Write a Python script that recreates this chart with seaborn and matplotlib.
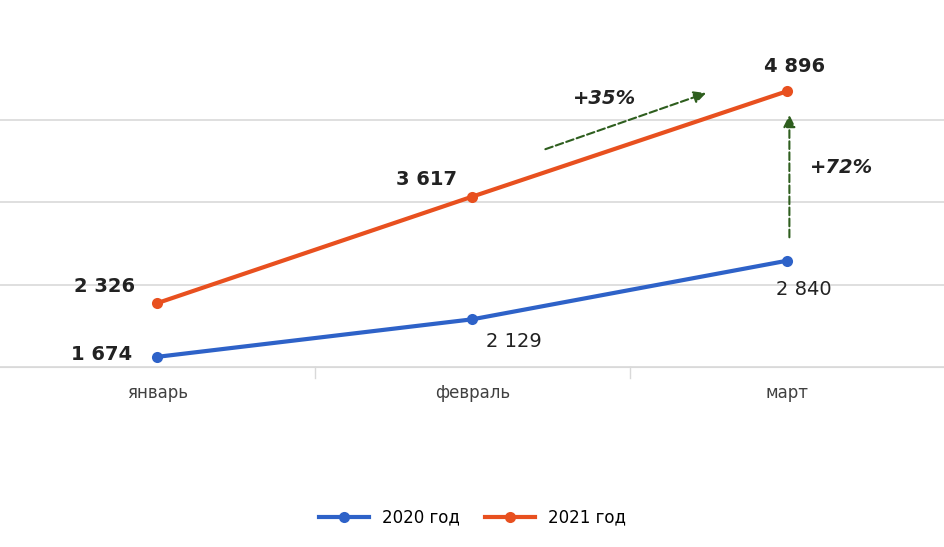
import matplotlib
matplotlib.use("Agg")
import matplotlib.pyplot as plt
import seaborn as sns
import pandas as pd

months = ["январь", "февраль", "март"]
v2020 = [1674, 2129, 2840]
v2021 = [2326, 3617, 4896]
series = ["2020 год", "2021 год"]

df = pd.DataFrame({"month": months * 2, "value": v2020 + v2021,
                   "series": [series[0]] * 3 + [series[1]] * 3})
df["x"] = [0, 1, 2, 0, 1, 2]

fig = plt.figure(figsize=(9.45, 5.47), dpi=100)
ax = fig.add_axes([0.0, 0.329, 1.0, 0.671])
blue, orange = "#2e62c8", "#e8501f"
sns.lineplot(data=df, x="x", y="value", hue="series", palette=[blue, orange],
             marker="o", markersize=8, linewidth=3, markeredgewidth=0, ax=ax)
ax.set_xlim(-0.5, 2.5)
ax.set_ylim(1550, 6000)
ax.set_yticks([1550, 2550, 3550, 4550])
ax.yaxis.grid(True, color="#d9d9d9", linewidth=1.2)
ax.set_yticklabels([])
ax.tick_params(axis="y", length=0)
ax.set_xticks([0, 1, 2])
ax.set_xticklabels(months, fontsize=12, color="#404040")
ax.tick_params(axis="x", length=0, pad=12)
for xb in [0.5, 1.5]:
    ax.plot([xb, xb], [1550, 1420], color="#d9d9d9", lw=1, clip_on=False)
for s in ["top", "right", "left"]:
    ax.spines[s].set_visible(False)
ax.spines["bottom"].set_color("#d9d9d9")
ax.set_xlabel(""); ax.set_ylabel("")

def fmt(v):
    return f"{v:,}".replace(",", " ")

offs2020 = [(-40, 2), (30, -16), (12, -21)]
offs2021 = [(-38, 12), (-33, 12), (5, 18)]
for i in range(3):
    ax.annotate(fmt(v2020[i]), (i, v2020[i]), xytext=offs2020[i], textcoords="offset points",
                ha="center", va="center", fontsize=14, color="#222",
                fontweight="bold" if i == 0 else "normal")
    ax.annotate(fmt(v2021[i]), (i, v2021[i]), xytext=offs2021[i], textcoords="offset points",
                ha="center", va="center", fontsize=14, color="#222", fontweight="bold")

green = "#2e5e1e"
ax.annotate("", xy=(1.75, 4883), xytext=(1.223, 4180),
            arrowprops=dict(arrowstyle="-|>", color=green, lw=1.5, linestyle="--", mutation_scale=18))
ax.annotate("", xy=(2.006, 4641), xytext=(2.006, 3089),
            arrowprops=dict(arrowstyle="-|>", color=green, lw=1.5, linestyle="--", mutation_scale=18))
ax.text(1.418, 4800, "+35%", fontsize=14, fontweight="bold", fontstyle="italic",
        ha="center", va="center", color="#222")
ax.text(2.17, 3974, "+72%", fontsize=14, fontweight="bold", fontstyle="italic",
        ha="center", va="center", color="#222")

ax.legend(loc="center", bbox_to_anchor=(0.5, -0.41), ncol=2, frameon=False,
          fontsize=12, handlelength=3, columnspacing=1.5)
fig.savefig("out.png", dpi=100)
